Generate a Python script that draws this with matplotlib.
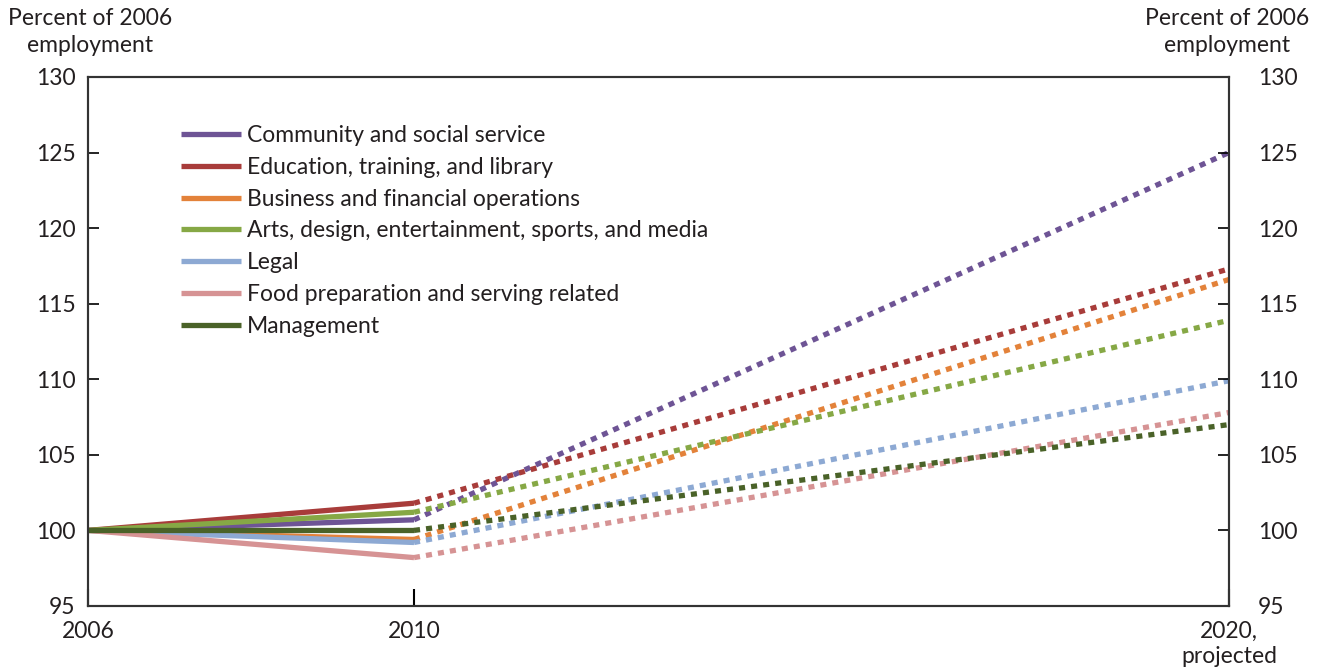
import matplotlib.pyplot as plt

plt.rcParams['font.family'] = ['Lato', 'DejaVu Sans']

years = [2006, 2010, 2020]
year_labels = ['2006', '2010', '2020,\nprojected']

series_names = [
    'Community and social service',
    'Education, training, and library',
    'Business and financial operations',
    'Arts, design, entertainment, sports, and media',
    'Legal',
    'Food preparation and serving related',
    'Management',
]
colors = ['#6E5495', '#A83C3A', '#E3823A', '#86A845', '#8DA9D3', '#D69394', '#4A6228']

# percent of 2006 employment: 2006, 2010 (actual), 2020 (projected)
community = [100, 100.7, 125.0]
education = [100, 101.8, 117.3]
business = [100, 99.4, 116.6]
arts = [100, 101.2, 113.9]
legal = [100, 99.2, 109.9]
food = [100, 98.2, 107.8]
management = [100, 100.0, 107.0]

all_series = [community, education, business, arts, legal, food, management]

FS = 16.5
TXT = '#231f20'

fig = plt.figure(figsize=(13.24, 6.67), dpi=100)
ax = fig.add_axes([0.0665, 0.0915, 0.8617, 0.7931])

for name, vals, c in zip(series_names, all_series, colors):
    ax.plot(years[:2], vals[:2], color=c, lw=3.8, solid_capstyle='butt', label=name)
    ax.plot(years[1:], vals[1:], color=c, lw=3.8, linestyle=(0, (1.15, 1.15)),
            dash_capstyle='butt')

ax.set_xlim(2006, 2020)
ax.set_ylim(95, 130)
ax.set_xticks(years)
ax.set_xticklabels(year_labels, fontsize=FS, color=TXT, linespacing=1.2)
ax.set_yticks(range(95, 131, 5))
ax.tick_params(axis='y', direction='in', length=8, width=1.2, labelsize=FS,
               pad=9, labelcolor=TXT)
ax.tick_params(axis='x', direction='in', length=12, width=1.5, pad=11)
for sp in ax.spines.values():
    sp.set_linewidth(1.5)
    sp.set_color('#333333')

ax2 = ax.twinx()
ax2.set_ylim(95, 130)
ax2.set_yticks(range(95, 131, 5))
ax2.tick_params(axis='y', direction='in', length=8, width=1.2, labelsize=FS,
                pad=21, labelcolor=TXT)
for sp in ax2.spines.values():
    sp.set_linewidth(1.5)
    sp.set_color('#333333')

leg = ax.legend(loc='upper left', bbox_to_anchor=(0.063, 0.948), frameon=False,
                fontsize=FS, handlelength=2.62, handletextpad=0.26, labelspacing=0.47)
for t in leg.get_texts():
    t.set_color(TXT)

fig.text(0.006, 0.988, 'Percent of 2006\nemployment', ha='left', va='top',
         multialignment='center', fontsize=FS, color=TXT, linespacing=1.35)
fig.text(0.989, 0.988, 'Percent of 2006\nemployment', ha='right', va='top',
         multialignment='center', fontsize=FS, color=TXT, linespacing=1.35)

fig.savefig('out.png', dpi=100)
